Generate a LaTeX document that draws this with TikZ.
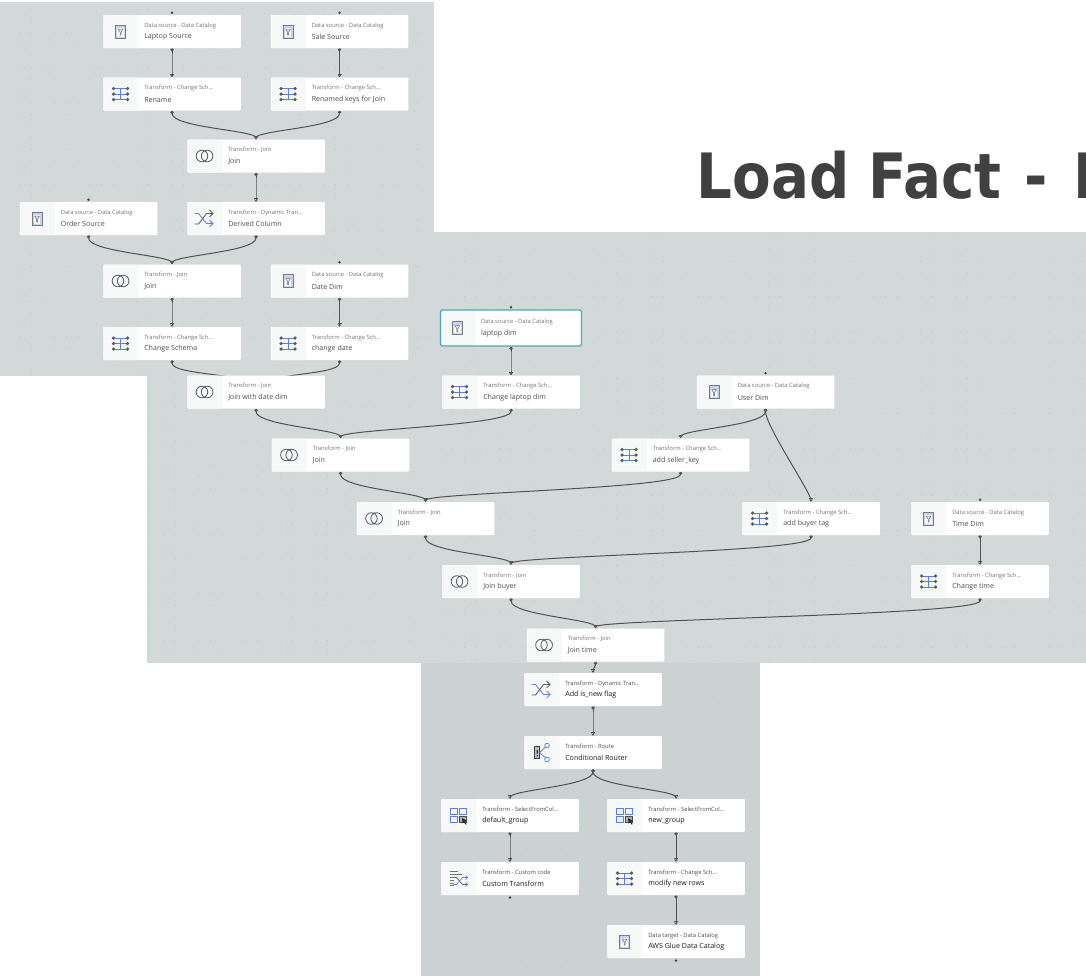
\documentclass[tikz,border=0pt]{standalone}
\usepackage{fontspec}
\setmainfont{Open Sans}
\newfontfamily\headfont{DejaVu Sans Condensed}
\usetikzlibrary{arrows.meta,backgrounds,positioning}
\definecolor{panelgrey}{HTML}{D3D9D9}
\definecolor{paneldark}{HTML}{CBD2D1}
\definecolor{dotgrey}{HTML}{BDC5C5}
\definecolor{stripgrey}{HTML}{F7F8F8}
\definecolor{iconblue}{HTML}{5B7FDB}
\definecolor{icongrey}{HTML}{555B60}
\definecolor{teal}{HTML}{4FA6BA}
\tikzset{
  card/.style={fill=white,minimum width=137.5pt,minimum height=33pt,inner sep=0,rounded corners=0.8pt,
    path picture={\fill[stripgrey] (path picture bounding box.south west) rectangle ([xshift=35pt]path picture bounding box.north west);}},
  picked/.style={draw=teal,line width=1.4pt,minimum width=141pt,minimum height=36pt,rounded corners=1.5pt},
  typelabel/.style={anchor=west,inner sep=0,text=#1,font=\fontsize{5.8}{6}\selectfont},
  typelabel/.default={black!55},
  titlelabel/.style={anchor=west,inner sep=0,text=#1,font=\fontsize{7.1}{8}\selectfont},
  titlelabel/.default={black!70},
  flow/.style={draw=black!68,line width=1pt,{Circle[length=3.2pt]}-{Bar[width=4pt,length=0.8pt]Stealth[length=2.5pt,width=3.5pt]},
    out=-90,in=90,out distance=17pt,in distance=9pt},
  port/.style={circle,fill=black!75,minimum size=2.6pt,inner sep=0},
  srcicon/.pic={
    \draw[icongrey!80,fill=iconblue!35,line width=0.7pt] (-5,-6.5) rectangle (5,6.5);
    \fill[white] (-3.4,-3.5) rectangle (3.4,5);
    \draw[icongrey,line width=0.5pt] (-2.4,-2.5) -- (2.4,-2.5) -- (0.5,0.5) -- (0.5,3.5) -- (-0.5,3.5) -- (-0.5,0.5) -- cycle;
  },
  schemaicon/.pic={
    \draw[iconblue,line width=0.8pt] (-6,-5.5) -- (6,-5.5) (0,-5.5) -- (0,5.5) (-6,0) -- (6,0) (-6,5.5) -- (6,5.5);
    \foreach \y in {-5.5,0,5.5}{
      \fill[icongrey] (-7,\y) circle (1.8) (7,\y) circle (1.8);
    }
  },
  joinicon/.pic={
    \draw[icongrey,line width=0.8pt] (-2.6,0) circle (5.8) (2.6,0) circle (5.8);
  },
  shuffleicon/.pic={
    \draw[iconblue,line width=0.8pt] (-10,-5) -- (-6,-5) (-6,-5) -- (2,5) -- (8,5);
    \draw[icongrey,line width=0.8pt] (-10,5.5) -- (-6,5.5) -- (2,-5) -- (8,-5);
    \draw[iconblue,line width=0.8pt] (5,1.5) -- (8.5,5) -- (5,8.5);
    \draw[icongrey,line width=0.8pt] (5,-8.5) -- (8.5,-5) -- (5,-1.5);
  },
  routeicon/.pic={
    \draw[black!75,fill=black!25,line width=0.8pt] (-7,-6) rectangle (-2,6);
    \fill[black!80] (-5,-2.5) rectangle (-3.8,1) (-5,2.5) rectangle (-3.8,3.8);
    \draw[iconblue,line width=0.8pt] (-2,0) -- (3.5,-5) (-2,0) -- (3.5,5);
    \draw[iconblue,fill=white,line width=0.8pt] (5.5,-7) circle (2.3) (5.5,7) circle (2.3);
  },
  selecticon/.pic={
    \draw[iconblue,line width=0.9pt] (-8,-7.5) rectangle (-1,-1.5) (1,-7.5) rectangle (8,-1.5) (-8,0.5) rectangle (-1,6.5);
    \draw[black!70,fill=black!30,line width=0.6pt] (1,0.5) rectangle (8,6.5);
    \fill[black!85] (3.5,2.5) -- (8.5,5.5) -- (6.5,6.2) -- (8,8.5) -- (7,9) -- (5.5,6.8) -- (4,8) -- cycle;
  },
  customicon/.pic={
    \draw[black!55,line width=0.7pt] (-9,-7.5) -- (-1,-7.5) (-9,-4.5) -- (3,-4.5) (-9,-1.5) -- (-3,-1.5) (-9,1.5) -- (-5,1.5) (-9,4.5) -- (-5,4.5) (-9,7) -- (-5,7);
    \draw[icongrey,line width=0.7pt] (-5,-1) -- (-2,-1) -- (4,6) -- (9,6);
    \draw[iconblue,line width=0.7pt] (-5,6) -- (-2,6) -- (4,-1) -- (9,-1) (7,-3) -- (9,-1) -- (7,1) (7,4) -- (9,6) -- (7,8);
  },
}
\newcommand{\card}[6][]{%
  \node[card,#1] (#2) at #3 {};
  \node[typelabel] (#2-type) at ([xshift=41pt,yshift=5.8pt]#2.west) {#4};
  \node[titlelabel] (#2-title) at ([xshift=41pt,yshift=-5.5pt]#2.west) {#5};
  \path ([xshift=17.5pt]#2.west) pic {#6};
}
\newcommand{\darkcard}[5]{%
  \node[card] (#1) at #2 {};
  \node[typelabel=black!70] (#1-type) at ([xshift=41pt,yshift=5.8pt]#1.west) {#3};
  \node[titlelabel=black!90] (#1-title) at ([xshift=41pt,yshift=-5.5pt]#1.west) {#4};
  \path ([xshift=17.5pt]#1.west) pic {#5};
}
\begin{document}
\begin{tikzpicture}[x=1pt,y=-1pt]
  \useasboundingbox (0,0) rectangle (1086,978);
  \begin{scope}[on background layer]
    \fill[panelgrey] (0,2) rectangle (434,376);
    \fill[panelgrey] (147,232) rectangle (1086,663);
    \fill[paneldark] (421,663) rectangle (760,976);
    \foreach \x in {8,19.7,...,430}{
      \foreach \y in {9,20.7,...,372}{
        \fill[dotgrey] (\x,\y) circle (0.45);
      }
    }
    \foreach \x in {441,452.7,...,1086}{
      \foreach \y in {238,249.7,...,660}{
        \fill[dotgrey] (\x,\y) circle (0.45);
      }
    }
    \foreach \x in {152,163.7,...,430}{
      \foreach \y in {383,394.7,...,660}{
        \fill[dotgrey] (\x,\y) circle (0.45);
      }
    }
    \foreach \x in {427,438.7,...,756}{
      \foreach \y in {668,679.7,...,972}{
        \fill[dotgrey] (\x,\y) circle (0.45);
      }
    }
  \end{scope}

  \node[anchor=base west,inner sep=0,text=black!75,font=\headfont\bfseries\fontsize{62.5}{62}\selectfont] (heading) at (696.5,198) {Load Fact\hspace{3pt} -\hspace{6pt} I};

  \card{laptopsrc}{(172,31.5)}{Data source - Data Catalog}{Laptop Source}{srcicon}
  \card{salesrc}{(339.5,31.5)}{Data source - Data Catalog}{Sale Source}{srcicon}
  \card{rename}{(172,94)}{Transform - Change Sch...}{Rename}{schemaicon}
  \card{renamekeys}{(339.5,94)}{Transform - Change Sch...}{Renamed keys for Join}{schemaicon}
  \card{joina}{(256,156)}{Transform - Join}{Join}{joinicon}
  \card{ordersrc}{(88.5,218.5)}{Data source - Data Catalog}{Order Source}{srcicon}
  \card{derived}{(256,218.5)}{Transform - Dynamic Tran...}{Derived Column}{shuffleicon}
  \card{joinb}{(172,281)}{Transform - Join}{Join}{joinicon}
  \card{datedim}{(339.5,281)}{Data source - Data Catalog}{Date Dim}{srcicon}
  \card{changeschema}{(172,343.5)}{Transform - Change Sch...}{Change Schema}{schemaicon}
  \card{changedate}{(339.5,343.5)}{Transform - Change Sch...}{change date}{schemaicon}
  \card{joindate}{(256,392)}{Transform - Join}{Join with date dim}{joinicon}
  \card[picked]{laptopdim}{(511,328)}{Data source - Data Catalog}{laptop dim}{srcicon}
  \card{changelaptop}{(511,392)}{Transform - Change Sch...}{Change laptop dim}{schemaicon}
  \card{userdim}{(765.5,392)}{Data source - Data Catalog}{User Dim}{srcicon}
  \card{joinc}{(340.5,455)}{Transform - Join}{Join}{joinicon}
  \card{sellerkey}{(680.5,455)}{Transform - Change Sch...}{add seller\_key}{schemaicon}
  \card{joind}{(425.5,518.5)}{Transform - Join}{Join}{joinicon}
  \card{buyertag}{(811,518.5)}{Transform - Change Sch...}{add buyer tag}{schemaicon}
  \card{timedim}{(980,518.5)}{Data source - Data Catalog}{Time Dim}{srcicon}
  \card{joinbuyer}{(511,581.5)}{Transform - Join}{Join buyer}{joinicon}
  \card{changetime}{(980,581.5)}{Transform - Change Sch...}{Change time}{schemaicon}
  \card{jointime}{(595.5,645)}{Transform - Join}{Join time}{joinicon}

  \darkcard{isnew}{(593,689.5)}{Transform - Dynamic Tran...}{Add is\_new flag}{shuffleicon}
  \darkcard{router}{(593,752.5)}{Transform - Route}{Conditional Router}{routeicon}
  \darkcard{defaultgroup}{(510,815.5)}{Transform - SelectFromCol...}{default\_group}{selecticon}
  \darkcard{newgroup}{(676,815.5)}{Transform - SelectFromCol...}{new\_group}{selecticon}
  \darkcard{customcode}{(510,878.5)}{Transform - Custom code}{Custom Transform}{customicon}
  \darkcard{newrows}{(676,878.5)}{Transform - Change Sch...}{modify new rows}{schemaicon}
  \darkcard{gluetarget}{(676,941.5)}{Data target - Data Catalog}{AWS Glue Data Catalog}{srcicon}

  \foreach \i in {laptopsrc,salesrc,ordersrc,datedim,laptopdim,userdim,timedim}{
    \node[port,above=0.6pt of \i.north] (\i-top) {};
  }
  \foreach \i in {customcode,gluetarget}{
    \node[port,below=0.8pt of \i.south] (\i-end) {};
  }

  \begin{scope}[on background layer]
    \foreach \a/\b in {laptopsrc/rename,salesrc/renamekeys,rename/joina,renamekeys/joina,joina/derived,
      ordersrc/joinb,derived/joinb,joinb/changeschema,datedim/changedate,laptopdim/changelaptop,
      joindate/joinc,changelaptop/joinc,userdim/sellerkey,userdim/buyertag,joinc/joind,sellerkey/joind,
      joind/joinbuyer,buyertag/joinbuyer,timedim/changetime,joinbuyer/jointime,changetime/jointime,
      isnew/router,router/defaultgroup,router/newgroup,defaultgroup/customcode,
      newgroup/newrows,newrows/gluetarget}{
      \draw[flow] (\a.south) to (\b.north);
    }
    \draw[flow,out distance=4pt,in distance=4pt] (jointime.south) to (isnew.north);
    \draw[flow,out distance=16pt,in distance=20pt] (changeschema.south) to (joindate.center);
    \draw[flow,out distance=16pt,in distance=20pt] (changedate.south) to (joindate.center);
  \end{scope}
\end{tikzpicture}
\end{document}
